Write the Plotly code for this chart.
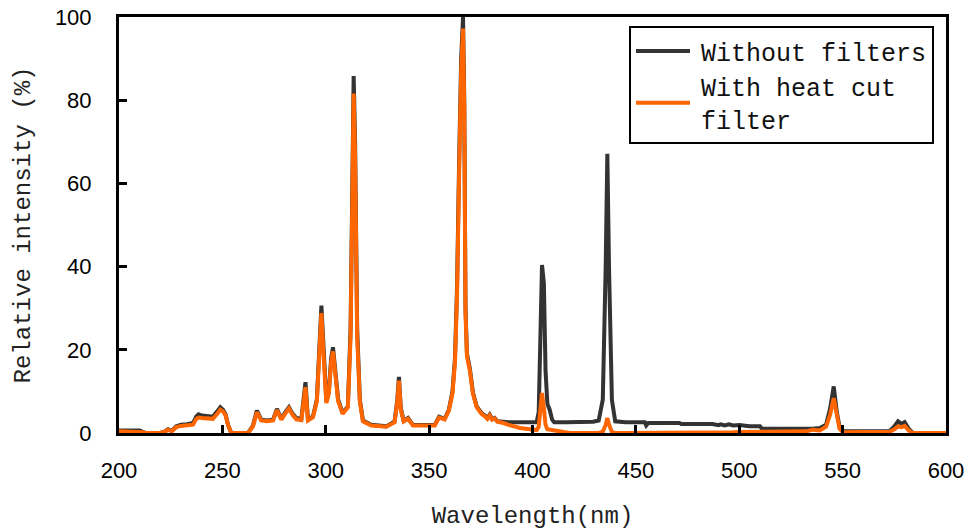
import plotly.graph_objects as go

# Wavelength grid (nm)
wavelength = [200, 205, 210, 211.5, 213, 220, 222, 223.7, 225.5, 227.7, 230, 233, 235.8, 237.4, 238.5,
              240, 242.5, 245.4, 247.5, 249, 250.3, 251.6, 252.7, 254.3, 262.4, 264.8, 266.7, 268.8,
              271.5, 274.5, 276.4, 278.5, 280.5, 282.2, 284, 285.8, 288.2, 289.4, 290.2, 291.4, 293.8,
              295.7, 297.0, 297.9, 298.8, 300.3, 301.5, 302.6, 303.5, 304.5, 306, 308.2, 310.7, 312.0,
              313.0, 313.5, 314.2, 315.2, 316.5, 318, 322, 329.3, 333.3, 334.6, 335.4, 336.3, 337.7,
              339.8, 342.2, 352.7, 354.8, 357.5, 359.5, 361.3, 362.5, 363.5, 364.5, 365.5, 366.4, 367.0,
              367.6, 368.3, 369.7, 371.2, 373, 375.3, 377, 378.2, 379.3, 380.5, 381.7, 383, 386, 388,
              394, 400, 402, 403, 404, 404.6, 405.5, 406.3, 407.2, 408.3, 409.5, 410.5, 416.4, 418,
              429.3, 432, 434, 435.4, 436.2, 437.0, 438.4, 440, 445, 454.3, 455, 456, 471, 472, 487,
              490, 491, 493, 495, 497, 500, 505, 510, 511, 530, 532.5, 535.5, 539, 542, 544, 545.7,
              547.2, 548.5, 550.2, 560, 572.8, 575, 576.8, 578.5, 580, 582, 584, 600]

without_filters = [0.6, 0.6, 0.6, 0.3, 0, 0, 0.3, 0.9, 0.5, 1.6, 2.0, 2.1, 2.4, 4.0, 4.5,
                   4.2, 4.0, 3.9, 5.2, 6.2, 5.6, 4.4, 2.0, 0, 0, 1.8, 5.4, 3.2,
                   3.0, 3.2, 5.8, 3.4, 5.0, 6.2, 4.6, 3.6, 3.4, 8.0, 12.2, 3.2, 4.0,
                   8.0, 22, 30.6, 22, 7.6, 10, 18, 20.6, 15, 8, 4.8, 6.4, 25,
                   70, 85.8, 70, 25, 8, 3.0, 2.0, 1.6, 2.8, 8, 13.5, 6, 2.9,
                   3.6, 1.9, 1.9, 3.9, 3.4, 5.5, 10, 18, 35, 65, 90, 100, 80,
                   30, 19, 15.5, 9.7, 6.4, 4.8, 4.2, 3.6, 4.4, 3.3, 3.6, 2.8, 2.7, 2.6,
                   2.6, 2.6, 2.6, 5, 28, 40.4, 36, 15, 7, 5.6, 3.2, 2.6, 2.6, 2.6,
                   2.7, 3.0, 8, 40, 67.1, 40, 8, 2.8, 2.6, 2.6, 1.8, 2.4, 2.4, 2.15, 2.15,
                   1.9, 2.1, 1.8, 2.1, 1.8, 1.9, 1.6, 1.6, 1.0, 1.0, 0.8, 1.0, 1.2, 2.0, 6, 11.2,
                   5, 1.5, 0.4, 0.4, 0.5, 1.6, 2.8, 2.2, 2.6, 1.0, 0, 0]

with_heat_cut_filter = [0.4, 0.4, 0.4, 0.2, 0, 0, 0.3, 0.8, 0.4, 1.4, 1.7, 1.8, 2.0, 3.4, 3.7,
                        3.6, 3.4, 3.4, 4.6, 5.6, 5.2, 4.2, 2.0, 0, 0, 1.6, 5.0, 3.0,
                        2.8, 3.0, 5.5, 3.2, 4.7, 5.9, 4.3, 3.3, 3.1, 7.0, 11.0, 3.0, 3.8,
                        7.6, 20, 28.8, 20, 7.2, 9.5, 17, 19.6, 14, 7.6, 4.6, 6.2, 23,
                        66, 81.6, 66, 23, 7.5, 2.8, 1.8, 1.5, 2.6, 7.5, 12.6, 5.6, 2.8,
                        3.4, 1.8, 1.8, 3.7, 3.3, 5.3, 9.5, 17, 33, 62, 87, 97.2, 78,
                        29, 18.4, 15, 9.4, 6.2, 4.6, 4.0, 3.4, 4.2, 3.2, 3.5, 2.7, 2.4, 2.0,
                        1.2, 0.8, 0.7, 1.5, 6, 9.6, 6, 2, 0.9, 0.8, 0.7, 0.6, 0.1, 0,
                        0, 0, 0.3, 2, 3.6, 2, 0.3, 0, 0, 0, 0, 0, 0, 0, 0,
                        0, 0, 0.1, 0.2, 0.2, 0.25, 0.25, 0.25, 0.25, 0.25, 0.4, 0.8, 0.6, 1.5, 4.5, 8.4,
                        3.8, 1.0, 0.2, 0.2, 0.3, 0.9, 1.6, 1.4, 1.7, 0.6, 0, 0]

pad = "<span style='font-size:10px'> </span>"
series_names = [pad + "Without filters", pad + "With heat cut<br>" + pad + "filter"]
x_ticks = [200, 250, 300, 350, 400, 450, 500, 550, 600]
y_ticks = [0, 20, 40, 60, 80, 100]

fig = go.Figure()
fig.add_trace(go.Scatter(x=wavelength, y=without_filters, mode="lines", name=series_names[0],
                         line=dict(color="#333333", width=4)))
fig.add_trace(go.Scatter(x=wavelength, y=with_heat_cut_filter, mode="lines", name=series_names[1],
                         line=dict(color="#FF6600", width=4)))

mono = "Liberation Mono"
sans = "Liberation Sans"

fig.update_layout(
    width=971, height=532,
    margin=dict(l=119, r=25, t=17, b=99, autoexpand=False),
    plot_bgcolor="white", paper_bgcolor="white",
    showlegend=True,
    legend=dict(x=0.9855, y=0.978, xanchor="right", yanchor="top",
                bordercolor="black", borderwidth=2, bgcolor="white",
                font=dict(family=mono, size=25, color="#111111"),
                tracegroupgap=0, itemwidth=54),
)
fig.update_xaxes(
    range=[200, 600], tickvals=x_ticks, ticktext=[str(v) for v in x_ticks],
    showgrid=False, zeroline=False, automargin=False,
    showline=True, linecolor="black", linewidth=3, mirror=True,
    ticks="inside", ticklen=8, tickwidth=3, tickcolor="black",
    tickfont=dict(family=sans, size=22, color="black"),
    ticklabelstandoff=16,
    title=dict(text="Wavelength(nm)", font=dict(family=mono, size=24, color="#222222"), standoff=24),
)
fig.update_yaxes(
    range=[0, 100], tickvals=y_ticks, ticktext=[str(v) for v in y_ticks],
    showgrid=False, zeroline=False, automargin=False,
    showline=True, linecolor="black", linewidth=3, mirror=True,
    ticks="inside", ticklen=8, tickwidth=3, tickcolor="black",
    tickfont=dict(family=sans, size=22, color="black"),
    ticklabelstandoff=20,
    title=dict(text="Relative intensity (%)", font=dict(family=mono, size=24, color="#222222"), standoff=18),
)

fig.write_html("out.html", config={"displayModeBar": False},
               post_script="document.body.style.margin='0px';document.body.style.overflow='hidden';")
